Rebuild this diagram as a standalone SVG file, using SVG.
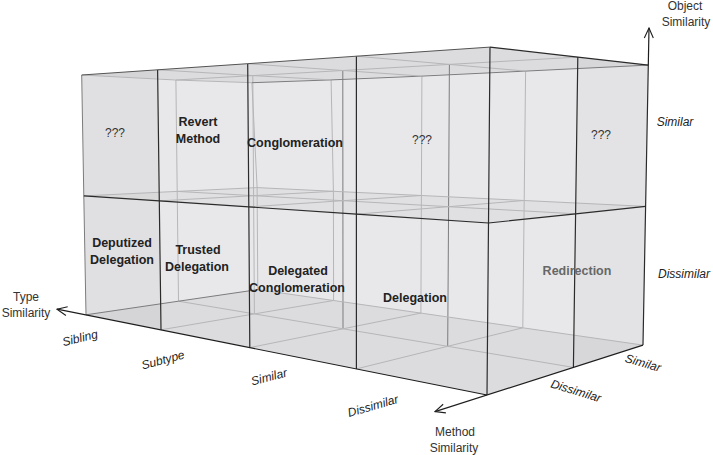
<svg xmlns="http://www.w3.org/2000/svg" width="713" height="455" viewBox="0 0 713 455">
<style>
text{font-family:"Liberation Sans",Arial,Helvetica,sans-serif;fill:#222}
.b{font-weight:bold;font-size:12.5px;text-anchor:middle}
.q{font-size:12px;text-anchor:middle;fill:#333}
.i{font-style:italic;font-size:12px;text-anchor:middle}
.ax{font-size:12px;text-anchor:middle;fill:#333}
.dk{fill:none;stroke:#2b2b2b;stroke-width:1.2}
.md{fill:none;stroke:#7c7c7e;stroke-width:1}
.lt{fill:none;stroke:#b6b6b8;stroke-width:1}
.axis{fill:none;stroke:#1e1e1e;stroke-width:1.2}
</style>
<defs>
<marker id="arr" viewBox="-12 -6 13 12" refX="0" refY="0" markerWidth="13" markerHeight="12" markerUnits="userSpaceOnUse" orient="auto">
<path d="M-10,-4.5 L0,0 L-10,4.5" fill="none" stroke="#1e1e1e" stroke-width="1.1"/>
</marker>
</defs>
<rect width="713" height="455" fill="#ffffff"/>
<g id="box-fills">
<polygon points="81.7,75 490,47.1 648.3,65.1 643,345.1 487,395 86,314.8" fill="#e8e8ea"/>
<polygon points="81.7,75 490,47.1 648.3,65.1 251.9,82.7" fill="#dcdcde"/>
<polygon points="86,314.8 487,395 643,345.1 257.8,289.6" fill="#dcdcde"/>
<polygon points="83.8,195.9 488.5,223 645.6,206.4 257.1,187.6" fill="#000" fill-opacity="0.03"/>
<polygon points="81.7,75 157.6,69.8 161,329.8 86,314.8" fill="#000" fill-opacity="0.03"/>
<polygon points="577.8,57.1 648.3,65.1 643,345.1 573.4,367.4" fill="#000" fill-opacity="0.02"/>
</g>
<g id="connectors">
<polyline class="lt" points="522.8,327.8 524.2,200.5 525.6,71.1"/>
<polyline class="lt" points="420.9,313.1 421.4,195.5 421.9,76.1"/>
<polyline class="lt" points="333.6,300.5 333.4,191.3 331.1,79.9"/>
<polyline class="lt" points="257.8,289.6 257.1,187.6 251.9,82.7"/>
<polyline class="md" points="447.7,346.3 448.6,206.7 449.4,64.4"/>
<polyline class="md" points="343,328.8 342.9,200.7 342.8,70.5"/>
<polyline class="lt" points="254.4,313.9 253.6,195.7 252.8,75.6"/>
<polyline class="lt" points="178.5,301.2 177.2,191.4 175.9,80"/>
<polyline class="lt" points="178.5,301.2 254.4,313.9 343,328.8 447.7,346.3 573.4,367.4"/>
<polyline class="lt" points="257.8,289.6 333.6,300.5 420.9,313.1 522.8,327.8 643,345.1"/>
<polyline class="lt" points="356.4,368.9 447.7,346.3 522.8,327.8"/>
<polyline class="lt" points="249.8,347.6 343,328.8 420.9,313.1"/>
<polyline class="lt" points="161,329.8 254.4,313.9 333.6,300.5"/>
<polyline class="md" points="86,314.8 178.5,301.2 257.8,289.6"/>
<polyline class="lt" points="177.2,191.4 253.6,195.7 342.9,200.7 448.6,206.7 575.6,213.8"/>
<polyline class="lt" points="257.1,187.6 333.4,191.3 421.4,195.5 524.2,200.5 645.6,206.4"/>
<polyline class="lt" points="356.4,214.2 448.6,206.7 524.2,200.5"/>
<polyline class="lt" points="248.8,206.9 342.9,200.7 421.4,195.5"/>
<polyline class="lt" points="159.3,200.9 253.6,195.7 333.4,191.3"/>
<polyline class="lt" points="83.8,195.9 177.2,191.4 257.1,187.6"/>
<polyline class="lt" points="175.9,80 252.8,75.6 342.8,70.5 449.4,64.4 577.8,57.1"/>
<polyline class="md" points="251.9,82.7 331.1,79.9 421.9,76.1 525.6,71.1 648.3,65.1"/>
<polyline class="lt" points="356.4,56.2 449.4,64.4 525.6,71.1"/>
<polyline class="lt" points="247.7,63.7 342.8,70.5 421.9,76.1"/>
<polyline class="lt" points="157.6,69.8 252.8,75.6 331.1,79.9"/>
<polyline class="lt" points="81.7,75 175.9,80 251.9,82.7"/>
<polyline class="md" points="86,314.8 83.8,195.9 81.7,75"/>
<polyline class="dk" points="161,329.8 159.3,200.9 157.6,69.8"/>
<polyline class="dk" points="249.8,347.6 248.8,206.9 247.7,63.7"/>
<polyline class="dk" points="356.4,368.9 356.4,214.2 356.4,56.2"/>
<polyline class="dk" points="487,395 488.5,223 490,47.1"/>
<polyline class="dk" points="83.8,195.9 159.3,200.9 248.8,206.9 356.4,214.2 488.5,223"/>
<polyline class="md" style="stroke:#555" points="81.7,75 157.6,69.8 247.7,63.7 356.4,56.2 490,47.1"/>
<polyline class="dk" points="573.4,367.4 575.6,213.8 577.8,57.1"/>
<polyline class="dk" points="643,345.1 645.6,206.4 648.3,65.1"/>
<polyline class="dk" points="488.5,223 575.6,213.8 645.6,206.4"/>
<polyline class="dk" points="490,47.1 577.8,57.1 648.3,65.1"/>
<path class="axis" d="M487,395 L57,309.2" marker-end="url(#arr)"/>
<path class="axis" d="M643,345.1 L435,411.6" marker-end="url(#arr)"/>
<path class="axis" d="M648.3,65.1 L649,28" marker-end="url(#arr)"/>
</g>
<g id="cell-top-sibling"><text class="q" x="115" y="137">???</text></g>
<g id="cell-revert-method"><text class="b" x="198" y="126">Revert</text><text class="b" x="198" y="143">Method</text></g>
<g id="cell-conglomeration"><text class="b" x="295" y="147">Conglomeration</text></g>
<g id="cell-top-dissimilar"><text class="q" x="422" y="144">???</text></g>
<g id="cell-top-right"><text class="q" x="601" y="139">???</text></g>
<g id="cell-deputized-delegation"><text class="b" x="122" y="247">Deputized</text><text class="b" x="122" y="264">Delegation</text></g>
<g id="cell-trusted-delegation"><text class="b" x="198" y="254">Trusted</text><text class="b" x="197" y="271">Delegation</text></g>
<g id="cell-delegated-conglomeration"><text class="b" x="298" y="275">Delegated</text><text class="b" x="297" y="292">Conglomeration</text></g>
<g id="cell-delegation"><text class="b" x="415" y="302">Delegation</text></g>
<g id="cell-redirection"><text class="b" x="577" y="275" style="fill:#676767">Redirection</text></g>
<g id="axis-labels">
<text class="ax" x="685" y="10">Object</text>
<text class="ax" x="686" y="26">Similarity</text>
<text class="i" x="675" y="126">Similar</text>
<text class="i" x="684" y="278">Dissimilar</text>
<text class="ax" x="26" y="301">Type</text>
<text class="ax" x="26" y="317">Similarity</text>
<text class="ax" x="455" y="436">Method</text>
<text class="ax" x="454" y="452">Similarity</text>
<text class="i" transform="translate(80,338) rotate(-14)" y="4">Sibling</text>
<text class="i" transform="translate(163,360) rotate(-15)" y="4">Subtype</text>
<text class="i" transform="translate(269,377) rotate(-15)" y="4">Similar</text>
<text class="i" transform="translate(373,406) rotate(-16)" y="4">Dissimilar</text>
<text class="i" transform="translate(576,391) rotate(17)" y="4">Dissimilar</text>
<text class="i" transform="translate(643,363) rotate(16)" y="4">Similar</text>
</g>
</svg>
